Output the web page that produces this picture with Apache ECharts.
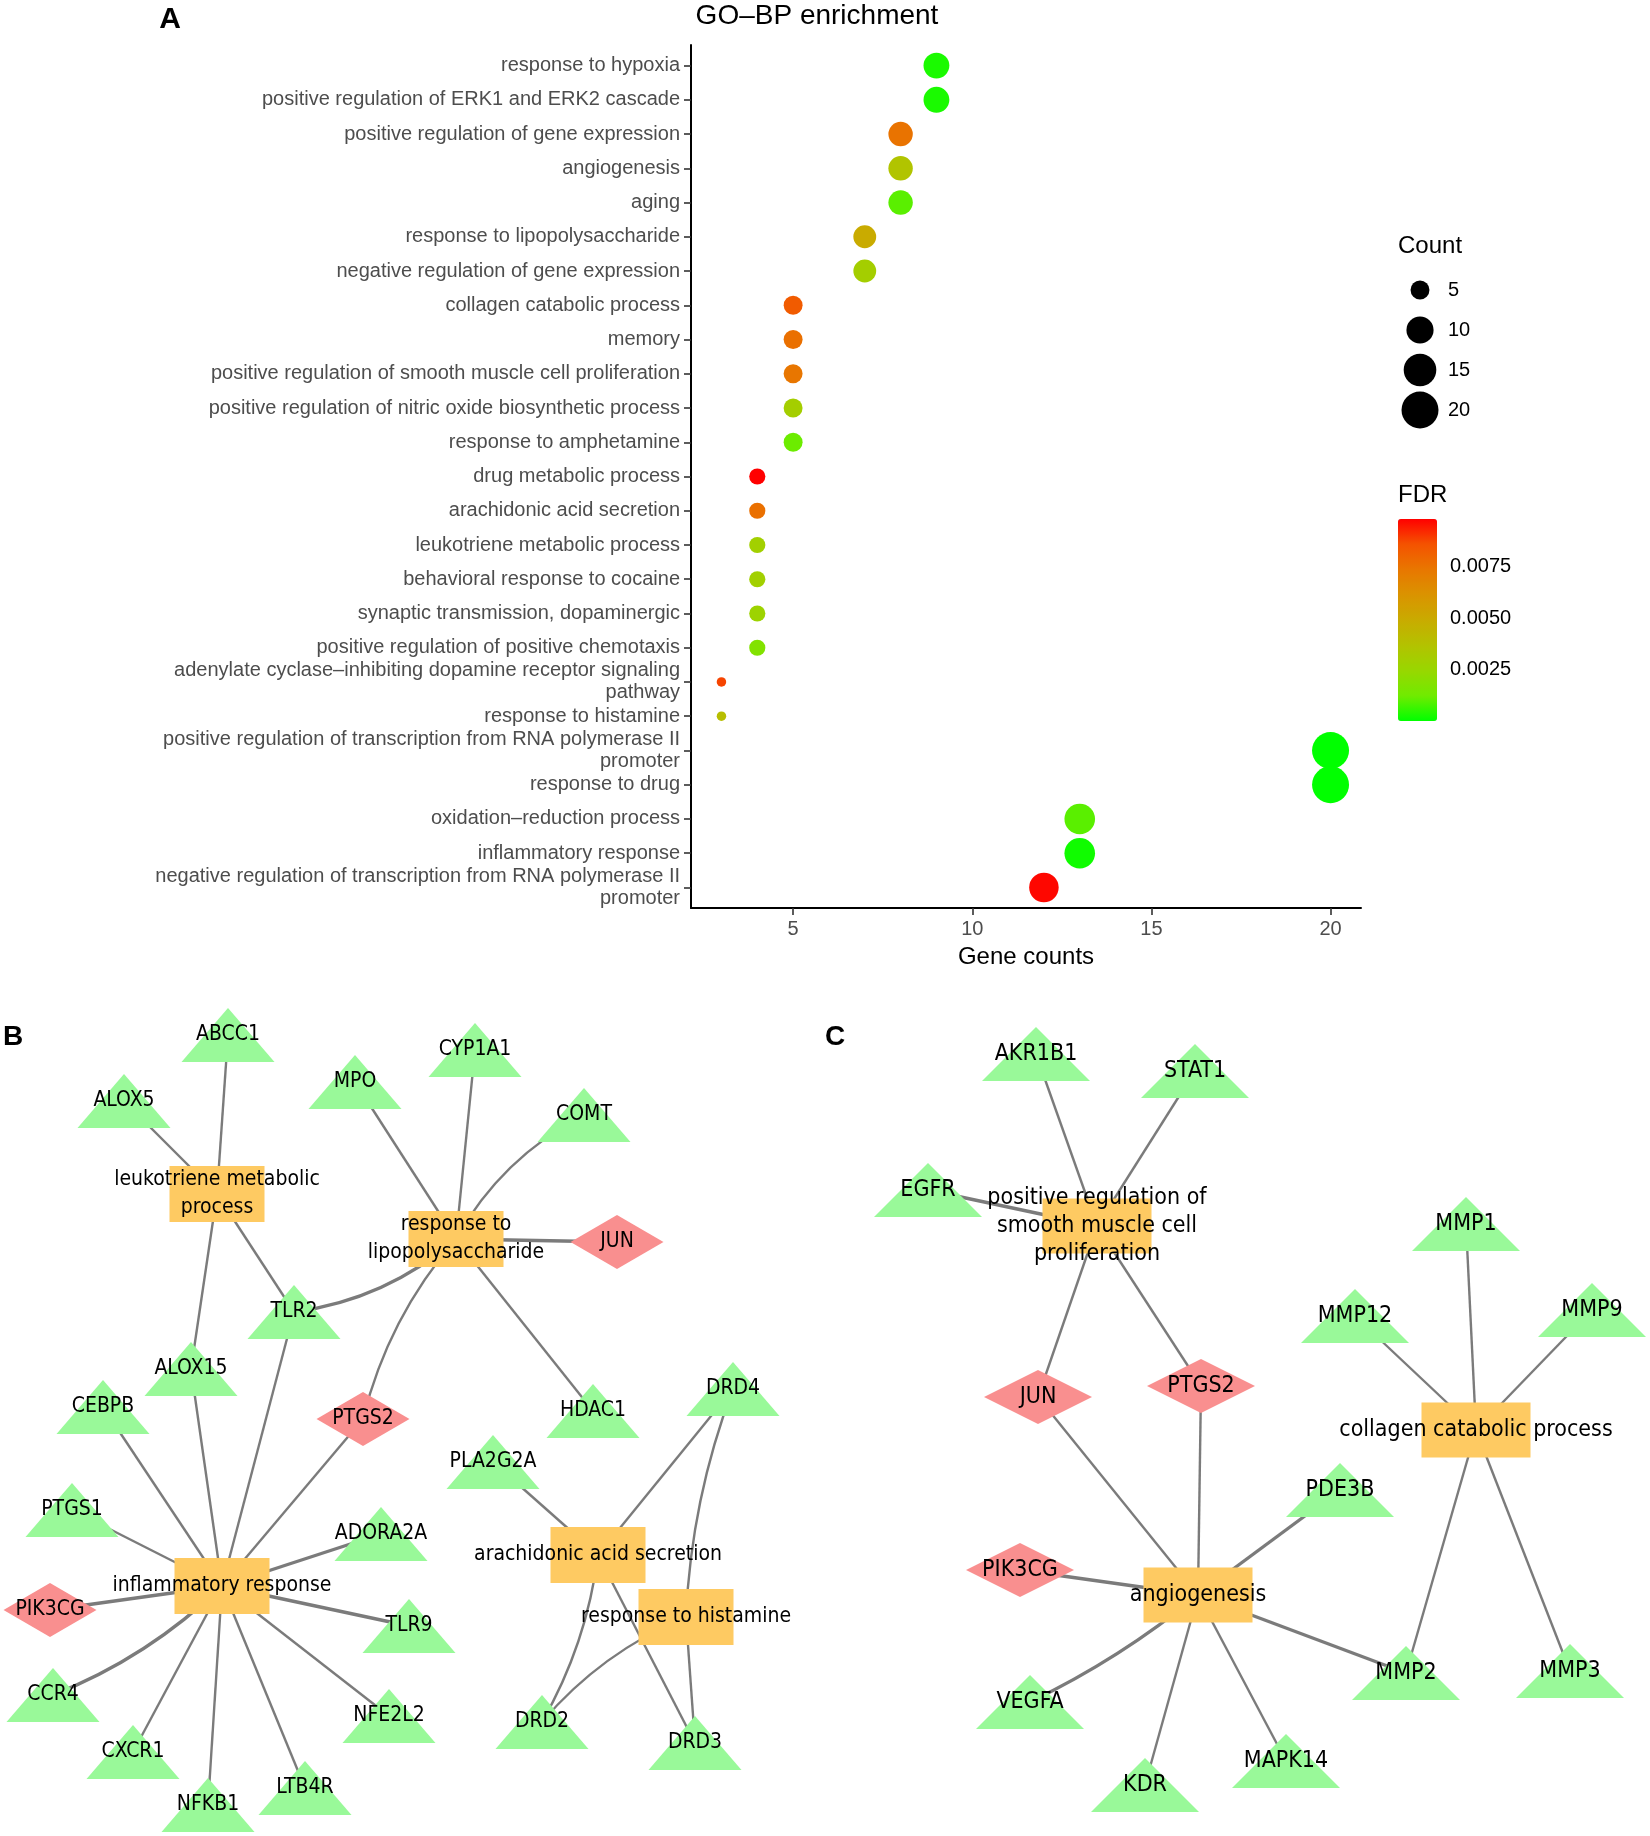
<!DOCTYPE html>
<html>
<head>
<meta charset="utf-8">
<script src="https://cdn.jsdelivr.net/npm/echarts@6/dist/echarts.min.js"></script>
<style>
html,body{margin:0;padding:0;background:#fff;}
#chart{width:1650px;height:1836px;}
</style>
</head>
<body>
<div id="chart"></div>
<script>
// ---------------- Panel A data ----------------
const goTerms = [
  "response to hypoxia",
  "positive regulation of ERK1 and ERK2 cascade",
  "positive regulation of gene expression",
  "angiogenesis",
  "aging",
  "response to lipopolysaccharide",
  "negative regulation of gene expression",
  "collagen catabolic process",
  "memory",
  "positive regulation of smooth muscle cell proliferation",
  "positive regulation of nitric oxide biosynthetic process",
  "response to amphetamine",
  "drug metabolic process",
  "arachidonic acid secretion",
  "leukotriene metabolic process",
  "behavioral response to cocaine",
  "synaptic transmission, dopaminergic",
  "positive regulation of positive chemotaxis",
  "adenylate cyclase\u2013inhibiting dopamine receptor signaling\npathway",
  "response to histamine",
  "positive regulation of transcription from RNA polymerase II\npromoter",
  "response to drug",
  "oxidation\u2013reduction process",
  "inflammatory response",
  "negative regulation of transcription from RNA polymerase II\npromoter"
];
const geneCounts = [9, 9, 8, 8, 8, 7, 7, 5, 5, 5, 5, 5, 4, 4, 4, 4, 4, 4, 3, 3, 20, 20, 13, 13, 12];
const fdrValues = [0.0003, 0.0003, 0.0075, 0.0036, 0.0010, 0.0049, 0.0030, 0.0083, 0.0076, 0.0074,
                   0.0030, 0.0012, 0.0098, 0.0076, 0.0029, 0.0029, 0.0027, 0.0018, 0.0088, 0.0039,
                   0.00002, 0.00003, 0.0010, 0.0002, 0.0097];
const xTicks = [5, 10, 15, 20];
const sizeLegendValues = [5, 10, 15, 20];
const fdrTicks = [0.0025, 0.0050, 0.0075];
const FDR_MIN = 0.00002, FDR_MAX = 0.0098;

// ---------------- Panel B network ----------------
const netBNodes = [
  ["leukotriene metabolic process", "term", "leukotriene metabolic\nprocess"],
  ["response to lipopolysaccharide", "term", "response to\nlipopolysaccharide"],
  ["inflammatory response", "term", "inflammatory response"],
  ["arachidonic acid secretion", "term", "arachidonic acid secretion"],
  ["response to histamine", "term", "response to histamine"],
  ["ABCC1", "gene"], ["ALOX5", "gene"], ["MPO", "gene"], ["CYP1A1", "gene"], ["COMT", "gene"],
  ["JUN", "hub"], ["TLR2", "gene"], ["ALOX15", "gene"], ["CEBPB", "gene"], ["PTGS2", "hub"],
  ["HDAC1", "gene"], ["DRD4", "gene"], ["PLA2G2A", "gene"], ["PTGS1", "gene"], ["ADORA2A", "gene"],
  ["PIK3CG", "hub"], ["TLR9", "gene"], ["CCR4", "gene"], ["NFE2L2", "gene"], ["DRD2", "gene"],
  ["DRD3", "gene"], ["CXCR1", "gene"], ["LTB4R", "gene"], ["NFKB1", "gene"]
];
// node layout (network drawing positions, page-scale units)
const netBLayout = {
  "leukotriene metabolic process": [217, 1194], "response to lipopolysaccharide": [456, 1239],
  "inflammatory response": [222, 1586], "arachidonic acid secretion": [598, 1555],
  "response to histamine": [686, 1617],
  ABCC1: [228, 1035], ALOX5: [124, 1101], MPO: [355, 1082], CYP1A1: [475, 1050], COMT: [584, 1115],
  JUN: [617, 1242], TLR2: [294, 1312], ALOX15: [191, 1369], CEBPB: [103, 1407], PTGS2: [363, 1419],
  HDAC1: [593, 1411], DRD4: [733, 1389], PLA2G2A: [493, 1462], PTGS1: [72, 1510], ADORA2A: [381, 1534],
  PIK3CG: [50, 1610], TLR9: [409, 1626], CCR4: [53, 1695], NFE2L2: [389, 1716], DRD2: [542, 1722],
  DRD3: [695, 1743], CXCR1: [133, 1752], LTB4R: [305, 1788], NFKB1: [208, 1805]
};
const netBEdges = [
  ["leukotriene metabolic process", "ABCC1"], ["leukotriene metabolic process", "ALOX5"],
  ["leukotriene metabolic process", "TLR2"], ["leukotriene metabolic process", "ALOX15"],
  ["response to lipopolysaccharide", "MPO"], ["response to lipopolysaccharide", "CYP1A1"],
  ["response to lipopolysaccharide", "COMT"], ["response to lipopolysaccharide", "JUN"],
  ["response to lipopolysaccharide", "TLR2"], ["response to lipopolysaccharide", "PTGS2"],
  ["response to lipopolysaccharide", "HDAC1"],
  ["inflammatory response", "CEBPB"], ["inflammatory response", "ALOX15"], ["inflammatory response", "TLR2"],
  ["inflammatory response", "PTGS2"], ["inflammatory response", "PTGS1"], ["inflammatory response", "ADORA2A"],
  ["inflammatory response", "PIK3CG"], ["inflammatory response", "TLR9"], ["inflammatory response", "CCR4"],
  ["inflammatory response", "CXCR1"], ["inflammatory response", "NFKB1"], ["inflammatory response", "LTB4R"],
  ["inflammatory response", "NFE2L2"],
  ["arachidonic acid secretion", "PLA2G2A"], ["arachidonic acid secretion", "DRD4"],
  ["arachidonic acid secretion", "DRD2"], ["arachidonic acid secretion", "DRD3"],
  ["response to histamine", "DRD4"], ["response to histamine", "DRD2"], ["response to histamine", "DRD3"]
];

// ---------------- Panel C network ----------------
const netCNodes = [
  ["positive regulation of smooth muscle cell proliferation", "term", "positive regulation of\nsmooth muscle cell\nproliferation"],
  ["collagen catabolic process", "term", "collagen catabolic process"],
  ["angiogenesis", "term", "angiogenesis"],
  ["AKR1B1", "gene"], ["STAT1", "gene"], ["EGFR", "gene"], ["MMP1", "gene"], ["MMP12", "gene"],
  ["MMP9", "gene"], ["JUN", "hub"], ["PTGS2", "hub"], ["PDE3B", "gene"], ["PIK3CG", "hub"],
  ["MMP2", "gene"], ["MMP3", "gene"], ["VEGFA", "gene"], ["MAPK14", "gene"], ["KDR", "gene"]
];
const netCLayout = {
  "positive regulation of smooth muscle cell proliferation": [1097, 1226],
  "collagen catabolic process": [1476, 1430], angiogenesis: [1198, 1595],
  AKR1B1: [1036, 1054], STAT1: [1195, 1071], EGFR: [928, 1190], MMP1: [1466, 1224], MMP12: [1355, 1316],
  MMP9: [1592, 1310], JUN: [1038, 1397], PTGS2: [1201, 1386], PDE3B: [1340, 1490], PIK3CG: [1020, 1570],
  MMP2: [1406, 1673], MMP3: [1570, 1671], VEGFA: [1030, 1702], MAPK14: [1286, 1761], KDR: [1145, 1785]
};
const netCEdges = [
  ["positive regulation of smooth muscle cell proliferation", "AKR1B1"],
  ["positive regulation of smooth muscle cell proliferation", "STAT1"],
  ["positive regulation of smooth muscle cell proliferation", "EGFR"],
  ["positive regulation of smooth muscle cell proliferation", "JUN"],
  ["positive regulation of smooth muscle cell proliferation", "PTGS2"],
  ["angiogenesis", "JUN"], ["angiogenesis", "PTGS2"], ["angiogenesis", "PDE3B"], ["angiogenesis", "PIK3CG"],
  ["angiogenesis", "MMP2"], ["angiogenesis", "VEGFA"], ["angiogenesis", "KDR"], ["angiogenesis", "MAPK14"],
  ["collagen catabolic process", "MMP1"], ["collagen catabolic process", "MMP12"],
  ["collagen catabolic process", "MMP9"], ["collagen catabolic process", "MMP2"],
  ["collagen catabolic process", "MMP3"]
];

// ---------------- styling (kept apart from data) ----------------
const FONT_A = '"Liberation Sans", Arial, Helvetica, sans-serif';
const FONT_NET = '"DejaVu Sans Condensed", "DejaVu Sans", sans-serif';
const edgeCurve = {
  "response to lipopolysaccharide|COMT": 0.15,
  "response to lipopolysaccharide|TLR2": 0.15,
  "response to lipopolysaccharide|PTGS2": -0.12,
  "inflammatory response|CCR4": 0.1,
  "arachidonic acid secretion|DRD2": 0.1,
  "response to histamine|DRD2": -0.12,
  "response to histamine|DRD4": 0.08,
  "angiogenesis|VEGFA": 0.06
};
const thickEdges = new Set([
  "response to lipopolysaccharide|JUN", "response to lipopolysaccharide|TLR2",
  "inflammatory response|ADORA2A", "inflammatory response|TLR9", "inflammatory response|PIK3CG",
  "inflammatory response|CCR4", "positive regulation of smooth muscle cell proliferation|EGFR",
  "angiogenesis|PIK3CG", "angiogenesis|MMP2", "angiogenesis|VEGFA", "angiogenesis|PDE3B"
]);
const nodeStyle = {
  term: { symbol: 'rect', color: '#FECA62' },
  gene: { symbol: 'triangle', color: '#99F999' },
  hub: { symbol: 'diamond', color: '#F98F8F' }
};

const cMin = Math.min(...geneCounts), cMax = Math.max(...geneCounts);
const sizeOf = c => 9.5 + 27.5 * Math.sqrt((c - cMin) / (cMax - cMin));

function buildGraph(nodes, layout, edges, sizes, fontSize, gridIdx) {
  return {
    type: 'graph',
    coordinateSystem: 'cartesian2d',
    xAxisIndex: gridIdx, yAxisIndex: gridIdx,
    silent: true,
    z: 3,
    data: nodes.map(n => {
      const st = nodeStyle[n[1]];
      return {
        name: n[0],
        value: layout[n[0]],
        symbol: st.symbol,
        symbolSize: n[1] === 'term' ? sizes.term : sizes.gene,
        itemStyle: { color: st.color, borderWidth: 0, opacity: 1 },
        label: {
          show: true, position: 'inside', color: '#000',
          fontSize: fontSize, fontFamily: FONT_NET, lineHeight: 28,
          formatter: n[2] || n[0]
        }
      };
    }),
    links: edges.map(e => {
      const key = e[0] + '|' + e[1];
      return {
        source: e[0], target: e[1],
        lineStyle: { curveness: edgeCurve[key] || 0, width: thickEdges.has(key) ? 3.4 : 2.4 }
      };
    }),
    lineStyle: { color: '#7b7b7b', opacity: 1 },
    emphasis: { disabled: true }
  };
}

const idx = goTerms.map((_, i) => i);
const chart = echarts.init(document.getElementById('chart'), null, { renderer: 'canvas' });

const option = {
  backgroundColor: '#ffffff',
  animation: false,
  grid: [
    { left: 691, top: 45, width: 670, height: 863 },
    { left: 1400, top: 270, width: 40, height: 160 },
    { left: 1398, top: 519, width: 39, height: 202 },
    { left: 0, top: 980, width: 1650, height: 856 }
  ],
  xAxis: [
    {
      gridIndex: 0, type: 'value', min: 2.15, max: 20.85,
      name: 'Gene counts', nameLocation: 'middle', nameGap: 37,
      nameTextStyle: { color: '#000', fontSize: 24, fontFamily: FONT_A },
      axisLine: { show: true, onZero: false, lineStyle: { color: '#000', width: 2 } },
      axisTick: { show: true, customValues: xTicks, length: 7, lineStyle: { color: '#333', width: 1.6 } },
      axisLabel: { customValues: xTicks, color: '#4D4D4D', fontSize: 20, fontFamily: FONT_A, margin: 11 },
      splitLine: { show: false }
    },
    { gridIndex: 1, type: 'value', min: 0, max: 1, show: false },
    { gridIndex: 2, type: 'value', min: 0, max: 1, show: false },
    { gridIndex: 3, type: 'value', min: 0, max: 1650, show: false }
  ],
  yAxis: [
    {
      gridIndex: 0, type: 'value', min: -0.6, max: goTerms.length - 0.4, inverse: true,
      axisLine: { show: true, onZero: false, lineStyle: { color: '#000', width: 2 } },
      axisTick: { show: true, customValues: idx, length: 7, lineStyle: { color: '#333', width: 1.6 } },
      axisLabel: {
        customValues: idx, color: '#4D4D4D', fontSize: 20, fontFamily: FONT_A, margin: 11,
        lineHeight: 22, align: 'right',
        formatter: v => goTerms[Math.round(v)]
      },
      splitLine: { show: false }
    },
    {
      gridIndex: 1, type: 'category', data: sizeLegendValues.map(String), inverse: true, position: 'right',
      axisLine: { show: false }, axisTick: { show: false },
      axisLabel: { color: '#000', fontSize: 20, fontFamily: FONT_A, margin: 8, align: 'left' }
    },
    {
      gridIndex: 2, type: 'value', min: FDR_MIN, max: FDR_MAX, position: 'right',
      axisLine: { show: false },
      axisTick: { show: true, inside: true, customValues: fdrTicks, length: 7, lineStyle: { color: '#fff', width: 1.6 } },
      axisLabel: {
        customValues: fdrTicks, color: '#000', fontSize: 20, fontFamily: FONT_A, margin: 13,
        formatter: v => v.toFixed(4)
      },
      splitLine: { show: false }
    },
    { gridIndex: 3, type: 'value', min: 980, max: 1836, inverse: true, show: false },
    {
      gridIndex: 2, type: 'value', min: FDR_MIN, max: FDR_MAX, position: 'left',
      axisLine: { show: false },
      axisTick: { show: true, inside: true, customValues: fdrTicks, length: 7, lineStyle: { color: '#fff', width: 1.6 } },
      axisLabel: { show: false },
      splitLine: { show: false }
    }
  ],
  visualMap: [{
    type: 'continuous',
    seriesIndex: 0,
    dimension: 2,
    min: FDR_MIN, max: FDR_MAX,
    calculable: false,
    hoverLink: false,
    left: 1398, top: 519, padding: 0,
    itemWidth: 39, itemHeight: 202,
    inRange: { color: ['#00FF00', '#70EB00', '#98D700', '#B3C200', '#C9AB00', '#DA9300', '#E87700', '#F45300', '#FF0000'] }
  }],
  series: [
    {
      type: 'scatter', xAxisIndex: 0, yAxisIndex: 0,
      data: goTerms.map((t, i) => [geneCounts[i], i, fdrValues[i]]),
      symbolSize: d => sizeOf(d[0]),
      itemStyle: { opacity: 1 },
      silent: true, z: 3
    },
    {
      type: 'scatter', xAxisIndex: 1, yAxisIndex: 1,
      data: sizeLegendValues.map((v, i) => ({ value: [0.5, i], symbolSize: sizeOf(v) })),
      itemStyle: { color: '#000', opacity: 1 },
      silent: true
    },
    buildGraph(netBNodes, netBLayout, netBEdges, { term: [95, 56], gene: [93, 54] }, 21, 3),
    buildGraph(netCNodes, netCLayout, netCEdges, { term: [109, 55], gene: [108, 54] }, 23, 3)
  ],
  graphic: [
    { type: 'text', x: 817, y: 16, style: { text: 'GO\u2013BP enrichment', fontSize: 28, fontFamily: FONT_A, fill: '#000', align: 'center', verticalAlign: 'middle' } },
    { type: 'text', x: 170, y: 20, style: { text: 'A', fontSize: 30, fontWeight: 'bold', fontFamily: FONT_A, fill: '#000', align: 'center', verticalAlign: 'middle' } },
    { type: 'text', x: 13, y: 1037, style: { text: 'B', fontSize: 28, fontWeight: 'bold', fontFamily: FONT_A, fill: '#000', align: 'center', verticalAlign: 'middle' } },
    { type: 'text', x: 835, y: 1037, style: { text: 'C', fontSize: 28, fontWeight: 'bold', fontFamily: FONT_A, fill: '#000', align: 'center', verticalAlign: 'middle' } },
    { type: 'text', x: 1398, y: 246, style: { text: 'Count', fontSize: 24, fontFamily: FONT_A, fill: '#000', align: 'left', verticalAlign: 'middle' } },
    { type: 'text', x: 1398, y: 495, style: { text: 'FDR', fontSize: 24, fontFamily: FONT_A, fill: '#000', align: 'left', verticalAlign: 'middle' } }
  ]
};
chart.setOption(option);
</script>
</body>
</html>
